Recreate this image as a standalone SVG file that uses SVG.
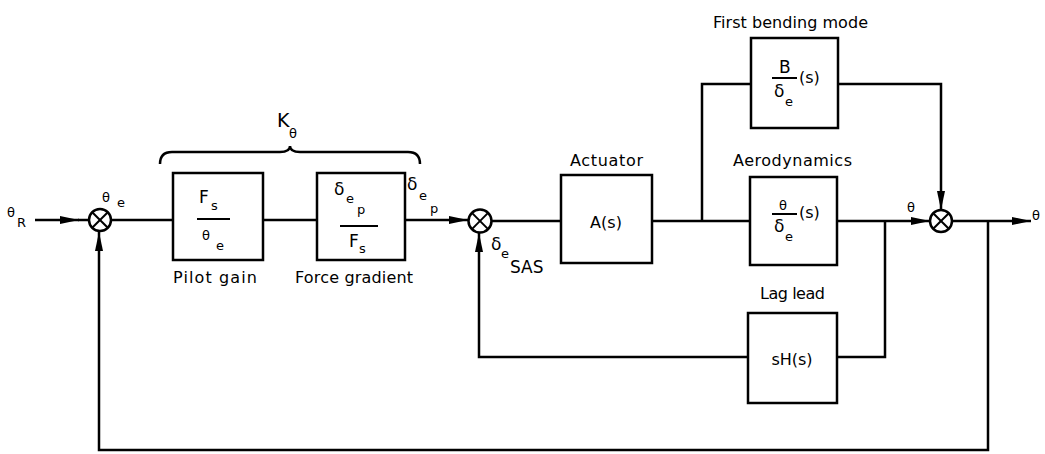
<svg xmlns="http://www.w3.org/2000/svg" width="1045" height="454" viewBox="0 0 1045 454">
<style>
.box{fill:#fff;stroke:#000;stroke-width:2.5}
.ln{fill:none;stroke:#000;stroke-width:2.5}
.arr{fill:none;stroke:#000;stroke-width:2.5;marker-end:url(#ah)}
.sum{fill:#fff;stroke:#000;stroke-width:2.5}
.x{stroke:#000;stroke-width:2}
text{font-family:"DejaVu Sans","Liberation Sans",sans-serif;fill:#000}
.lb{font-size:16px}
.m{font-size:17px}
.sb{font-size:13px}
.th{font-size:13px}
</style>
<defs>
<marker id="ah" markerUnits="userSpaceOnUse" markerWidth="20" markerHeight="10" refX="19" refY="5" orient="auto">
<path d="M0,1 L19,5 L0,9 Z" fill="#000"/>
</marker>
</defs>
<rect width="1045" height="454" fill="#fff"/>

<g id="connectors">
<path class="arr" d="M35,220 L79,220"/>
<path class="ln" d="M78,220 L89,220"/>
<path class="ln" d="M111,220 L173,220"/>
<path class="ln" d="M263,220 L317,220"/>
<path class="arr" d="M405,220 L468,220"/>
<path class="ln" d="M492,221 L561,221"/>
<path class="ln" d="M652,221 L750,221"/>
<path class="ln" d="M702,221 L702,84 L751,84"/>
<path class="arr" d="M838,84 L941,84 L941,210"/>
<path class="arr" d="M837,221 L930,221"/>
<path class="ln" d="M885,221 L885,357 L837,357"/>
<path class="arr" d="M748,357 L479,357 L479,233"/>
<path class="arr" d="M952,221 L1031,221"/>
<path class="arr" d="M988,221 L988,450 L99,450 L99,232"/>
<path class="ln" d="M160,164 Q160,152 172,152 L280,152 Q290,152 290,146 Q290,152 300,152 L408,152 Q420,152 420,164"/>
</g>

<g id="sum1">
<circle class="sum" cx="100" cy="220" r="11"/>
<line class="x" x1="92.2" y1="212.2" x2="107.8" y2="227.8"/>
<line class="x" x1="107.8" y1="212.2" x2="92.2" y2="227.8"/>
</g>
<g id="sum2">
<circle class="sum" cx="480" cy="221" r="11.5"/>
<line class="x" x1="471.9" y1="212.9" x2="488.1" y2="229.1"/>
<line class="x" x1="488.1" y1="212.9" x2="471.9" y2="229.1"/>
</g>
<g id="sum3">
<circle class="sum" cx="941" cy="221" r="11"/>
<line class="x" x1="933.2" y1="213.2" x2="948.8" y2="228.8"/>
<line class="x" x1="948.8" y1="213.2" x2="933.2" y2="228.8"/>
</g>

<g id="labels">
<text class="th" x="7" y="217">θ</text>
<text class="sb" x="17" y="227">R</text>
<text class="th" x="102" y="202">θ</text>
<text class="sb" x="117" y="207">e</text>
<text x="277" y="127" style="font-size:19px">K</text>
<text class="th" x="289" y="138">θ</text>
<text class="m" x="407" y="190">δ</text>
<text class="sb" x="419" y="200">e</text>
<text class="sb" x="430" y="213">p</text>
<text class="m" x="491" y="250">δ</text>
<text class="sb" x="501" y="258">e</text>
<text class="m" x="510" y="273">SAS</text>
<text class="th" x="907" y="212">θ</text>
<text class="th" x="1032" y="220">θ</text>
</g>

<g id="pilot-gain">
<rect class="box" x="173" y="173" width="90" height="87"/>
<text class="m" x="199" y="203">F</text>
<text class="sb" x="211" y="210">s</text>
<line class="x" x1="197" y1="219" x2="230" y2="219"/>
<text class="th" x="202" y="240">θ</text>
<text class="sb" x="216" y="250">e</text>
<text class="lb" x="173" y="283" textLength="84" lengthAdjust="spacing">Pilot gain</text>
</g>

<g id="force-gradient">
<rect class="box" x="317" y="173" width="88" height="87"/>
<text class="m" x="334" y="195">δ</text>
<text class="sb" x="346" y="203">e</text>
<text class="sb" x="357" y="214">p</text>
<line class="x" x1="340" y1="226" x2="378" y2="226"/>
<text class="m" x="349" y="247">F</text>
<text class="sb" x="359" y="253">s</text>
<text class="lb" x="295" y="283" textLength="118" lengthAdjust="spacing">Force gradient</text>
</g>

<g id="actuator">
<rect class="box" x="561" y="175" width="91" height="88"/>
<text class="lb" x="606" y="228" text-anchor="middle">A(s)</text>
<text class="lb" x="570" y="166" textLength="73" lengthAdjust="spacing">Actuator</text>
</g>

<g id="bending">
<rect class="box" x="751" y="38" width="87" height="90"/>
<text class="m" x="779" y="73">B</text>
<line class="x" x1="772" y1="78" x2="797" y2="78"/>
<text class="m" x="774" y="97">δ</text>
<text class="sb" x="785" y="106">e</text>
<text class="lb" x="799" y="83">(s)</text>
<text class="lb" x="713" y="28" textLength="155" lengthAdjust="spacing">First bending mode</text>
</g>

<g id="aerodynamics">
<rect class="box" x="750" y="177" width="87" height="88"/>
<text class="th" x="779" y="210">θ</text>
<line class="x" x1="772" y1="214" x2="797" y2="214"/>
<text class="m" x="774" y="232">δ</text>
<text class="sb" x="785" y="241">e</text>
<text class="lb" x="799" y="218">(s)</text>
<text class="lb" x="733" y="166" textLength="119" lengthAdjust="spacing">Aerodynamics</text>
</g>

<g id="lag-lead">
<rect class="box" x="748" y="313" width="89" height="90"/>
<text class="lb" x="792" y="365" text-anchor="middle">sH(s)</text>
<text class="lb" x="760" y="299" textLength="65" lengthAdjust="spacing">Lag lead</text>
</g>
</svg>
